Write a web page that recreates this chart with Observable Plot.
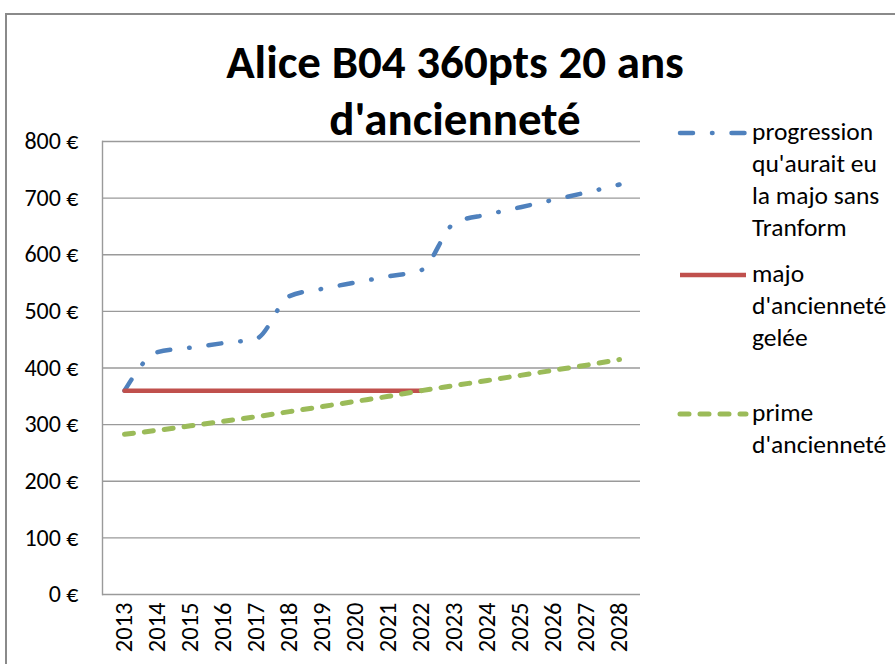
<!DOCTYPE html>
<html>
<head>
<meta charset="utf-8">
<script src="https://cdn.jsdelivr.net/npm/d3@7"></script>
<script src="https://cdn.jsdelivr.net/npm/@observablehq/plot@0.6"></script>
<style>
  html, body { margin: 0; padding: 0; background: #fff; }
  body { width: 895px; height: 664px; overflow: hidden; position: relative;
         font-family: Carlito, Calibri, Lato, "Open Sans", sans-serif; color: #000; }
  #border { position: absolute; left: 5px; top: 13px; width: 1000px; height: 1000px;
            border-left: 2px solid #8a8a8a; border-top: 2px solid #8a8a8a; }
  #chart { position: absolute; left: 0; top: 0; }
  #title { position: absolute; left: 105px; width: 700px; top: 34px; text-align: center;
           font-weight: bold; font-size: 47px; line-height: 57px; }
  .leg { position: absolute; left: 752px; font-size: 25.5px; line-height: 32px; white-space: nowrap; }
  .sw { position: absolute; left: 676px; }
</style>
</head>
<body>
<div id="border"></div>
<div id="chart"></div>
<div id="title"></div>
<div id="legend"></div>
<script>
const years = ["2013","2014","2015","2016","2017","2018","2019","2020","2021","2022","2023","2024","2025","2026","2027","2028"];
const progression = [360, 428, 436, 444, 452, 527, 540, 551, 562, 573, 656, 671, 684, 697, 710, 724];
const majo = [360, 360, 360, 360, 360, 360, 360, 360, 360, 360, null, null, null, null, null, null];
const prime = [283, 290, 298, 306, 314, 323, 332, 341, 350, 360, 369, 378, 387, 396, 405, 415];
const yTicks = [0, 100, 200, 300, 400, 500, 600, 700, 800];
const titleLines = ["Alice B04 360pts 20 ans", "d'ancienneté"];
const seriesNames = [
  ["progression", "qu'aurait eu", "la majo sans", "Tranform"],
  ["majo", "d'ancienneté", "gelée"],
  ["prime", "d'ancienneté"]
];

const colors = ["#4F81BD", "#C0504D", "#9BBB59"];
const dashes = ["13,19,0.5,19", null, "9,11"];
const widths = [4.5, 4.5, 5];

const rows = (vals) => years.map((y, i) => ({year: y, value: vals[i]}));

const plot = Plot.plot({
  width: 895,
  height: 664,
  marginLeft: 102,
  marginRight: 255,
  marginTop: 141,
  marginBottom: 70,
  style: {fontFamily: 'Carlito, Calibri, Lato, "Open Sans", sans-serif', fontSize: "24px", color: "#000", background: "transparent"},
  x: {type: "point", domain: years, padding: 0.5, label: null},
  y: {domain: [0, 800], label: null},
  marks: [
    Plot.gridY(yTicks, {stroke: "#9a9a9a", strokeOpacity: 1, strokeWidth: 1.4}),
    Plot.frame({anchor: "left", stroke: "#9a9a9a", strokeWidth: 1.4}),
    Plot.axisY(yTicks, {tickSize: 0, tickPadding: 24, tickFormat: d => d + "\u00a0€", fontSize: 24}),
    Plot.axisX({tickSize: 0, tickPadding: 8, tickRotate: -90, fontSize: 24.5}),
    Plot.line(rows(progression), {x: "year", y: "value", stroke: colors[0], strokeWidth: widths[0], strokeDasharray: dashes[0], strokeLinecap: "round", curve: "monotone-x"}),
    Plot.line(rows(majo), {x: "year", y: "value", stroke: colors[1], strokeWidth: widths[1], curve: "linear"}),
    Plot.line(rows(prime), {x: "year", y: "value", stroke: colors[2], strokeWidth: widths[2], strokeDasharray: dashes[2], strokeLinecap: "round", curve: "monotone-x"})
  ]
});
document.getElementById("chart").appendChild(plot);

document.getElementById("title").innerHTML = titleLines.join("<br>");

const legendTops = [116, 258, 397];
const legend = document.getElementById("legend");
seriesNames.forEach((lines, i) => {
  const t = document.createElement("div");
  t.className = "leg";
  t.style.top = legendTops[i] + "px";
  t.innerHTML = lines.join("<br>");
  legend.appendChild(t);
  const s = d3.create("svg").attr("class", "sw").attr("width", 76).attr("height", 12)
    .style("top", (legendTops[i] + 17 - 6) + "px");
  s.append("line").attr("x1", 4).attr("x2", 70).attr("y1", 6).attr("y2", 6)
    .attr("stroke", colors[i]).attr("stroke-width", widths[i])
    .attr("stroke-linecap", dashes[i] ? "round" : "butt")
    .attr("stroke-dasharray", dashes[i]);
  legend.appendChild(s.node());
});
</script>
</body>
</html>
